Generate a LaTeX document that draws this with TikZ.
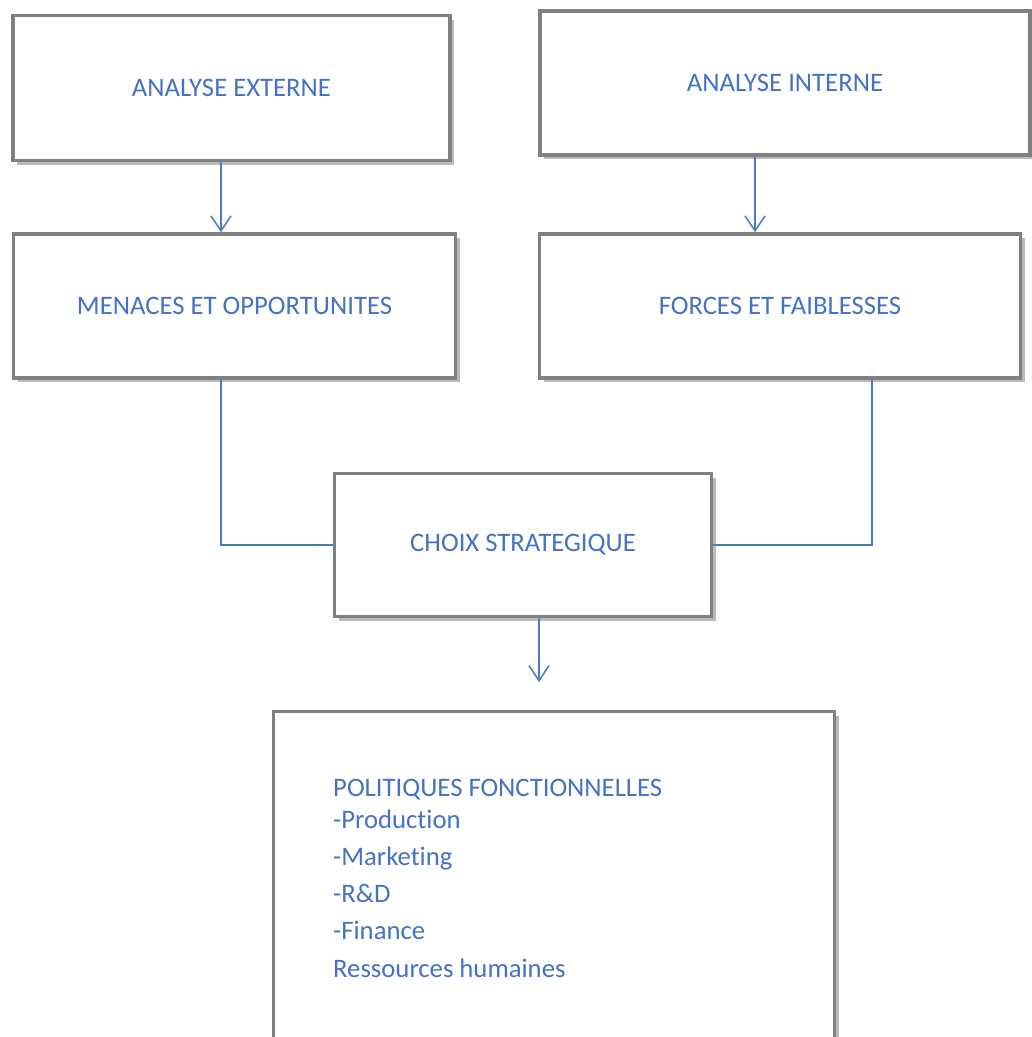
\documentclass[tikz,border=0pt]{standalone}
\usepackage{fontspec}
\setmainfont{Carlito}[Ligatures={NoCommon}]
\usetikzlibrary{arrows.meta,shadows}
\definecolor{txtblue}{RGB}{68,114,196}
\definecolor{lnblue}{RGB}{74,126,187}
\definecolor{bordergray}{RGB}{128,128,128}
\tikzset{
  box/.style={draw=bordergray, line width=3.5pt, fill=white, rectangle, inner sep=0pt,
    text=txtblue, font=\fontsize{26.7}{32}\selectfont,
    drop shadow={shadow xshift=4pt, shadow yshift=-4pt, opacity=0.45, fill=black!60}},
  conn/.style={draw=lnblue, line width=1.5pt},
  arr/.style={conn, -{Straight Barb[length=15pt, width=20pt, line width=1.5pt]}},
  item/.style={anchor=base west, inner sep=0pt, text=txtblue, font=\fontsize{26.7}{32}\selectfont}
}
\begin{document}
\begin{tikzpicture}[x=1pt, y=-1pt]
\useasboundingbox (0,0) rectangle (1032,1037);
\clip (0,0) rectangle (1032,1037);
\fill[white] (0,0) rectangle (1032,1037);
% boxes
\node[box, minimum width=437pt, minimum height=145pt] (b1) at (231.5,88) {\raisebox{-2pt}{ANALYSE EXTERNE}};
\node[box, minimum width=490pt, minimum height=144pt] (b2) at (785,83) {\raisebox{-3pt}{ANALYSE INTERNE}};
\node[box, minimum width=442pt, minimum height=144pt] (b3) at (234.5,306) {\raisebox{-3pt}{MENACES ET OPPORTUNITES}};
\node[box, minimum width=481pt, minimum height=144pt] (b4) at (780,306) {\raisebox{-3pt}{FORCES ET FAIBLESSES}};
\node[box, minimum width=377pt, minimum height=143pt] (b5) at (523,545) {\raisebox{-3pt}{CHOIX STRATEGIQUE}};
\node[box, minimum width=561pt, minimum height=340pt] (b6) at (554,881.5) {};
% text of the last box
\node[item] (t1) at (333,796) {POLITIQUES FONCTIONNELLES};
\node[item] (t2) at (333,828) {-Production};
\node[item] (t3) at (333,865) {-Marketing};
\node[item] (t4) at (333,902) {-R\&D};
\node[item] (t5) at (333,939) {-Finance};
\node[item] (t6) at (333,977) {Ressources humaines};
% guide coordinates
\coordinate (x1) at (221,0);
\coordinate (x2) at (755,0);
\coordinate (x3) at (872,0);
\coordinate (x4) at (539,0);
\coordinate (e5) at (539,682);
% connectors
\draw[arr] (x1 |- b1.south) -- (x1 |- b3.north);
\draw[arr] (x2 |- b2.south) -- (x2 |- b4.north);
\draw[conn] (x1 |- b3.south) |- (b5.west);
\draw[conn] (x3 |- b4.south) |- (b5.east);
\draw[arr] (x4 |- b5.south) -- (e5);
\end{tikzpicture}
\end{document}
